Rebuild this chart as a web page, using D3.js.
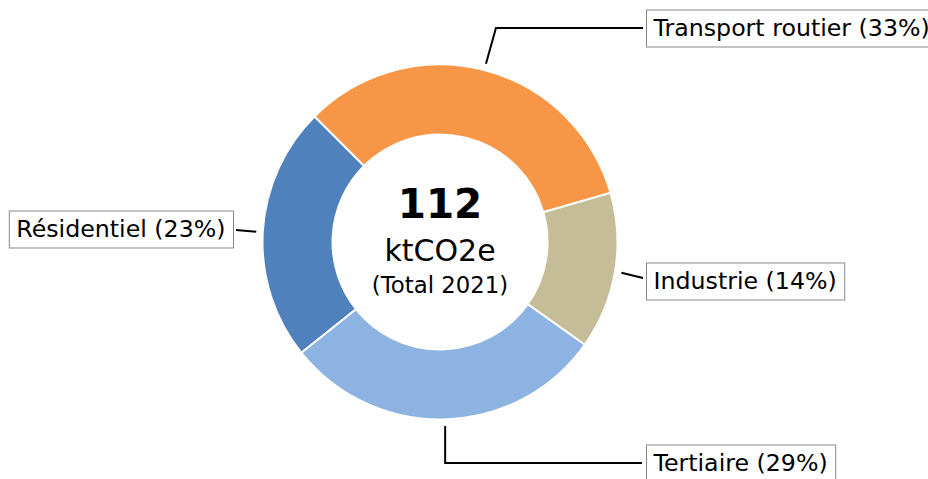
<!DOCTYPE html>
<html>
<head>
  <meta charset="UTF-8">
  <title>Emissions 2021</title>
  <script src="https://cdn.jsdelivr.net/npm/d3@7"></script>
  <style>
    body { margin: 0; background: #fff; }
    text { font-family: "DejaVu Sans", sans-serif; }
  </style>
</head>
<body>
<svg width="928" height="479"></svg>
<script>
// data
var sectors = ["Transport routier", "Industrie", "Tertiaire", "Résidentiel"];
var values = [37, 16, 33, 26];
var colors = ["#f79646", "#c4bd97", "#8db3e2", "#4f81bd"];
var centerLines = ["112", "ktCO2e", "(Total 2021)"];

// label placement (box anchor x, y) per sector, leader bend style
var labelPos = [
  {x: 646, y: 28, side: "right", bend: "h"},
  {x: 646, y: 281, side: "right", bend: "none"},
  {x: 646, y: 463, side: "right", bend: "v"},
  {x: 233, y: 229, side: "left", bend: "none"}
];

var svg = d3.select("svg");
var cx = 440, cy = 242;
var outerR = 177.5, innerR = 107.5;

var total = d3.sum(values);

var pie = d3.pie()
    .sort(null)
    .value(function(d) { return d; })
    .startAngle(-Math.PI / 4)
    .endAngle(-Math.PI / 4 + 2 * Math.PI);

var arc = d3.arc().innerRadius(innerR).outerRadius(outerR);

var g = svg.append("g").attr("transform", "translate(" + cx + "," + cy + ")");

var arcs = pie(values);

g.selectAll("path.slice")
  .data(arcs)
  .enter().append("path")
    .attr("class", "slice")
    .attr("d", arc)
    .attr("fill", function(d, i) { return colors[i]; })
    .attr("stroke", "#fff")
    .attr("stroke-width", 2);

// centre text
g.append("text").attr("x", 0).attr("y", -24)
  .attr("text-anchor", "middle").attr("font-size", 40.5).attr("font-weight", "bold")
  .text(centerLines[0]);
g.append("text").attr("x", 0).attr("y", 19)
  .attr("text-anchor", "middle").attr("font-size", 30)
  .text(centerLines[1]);
g.append("text").attr("x", 0).attr("y", 51)
  .attr("text-anchor", "middle").attr("font-size", 22.8)
  .text(centerLines[2]);

// labels with leader lines
var tipR = 184;
arcs.forEach(function(d, i) {
  var mid = (d.startAngle + d.endAngle) / 2;
  var px = cx + Math.sin(mid) * tipR;
  var py = cy - Math.cos(mid) * tipR;
  var lp = labelPos[i];
  var pct = Math.round(values[i] / total * 100);
  var label = sectors[i] + " (" + pct + "%)";

  var pts;
  if (lp.bend === "h") {
    pts = [[px, py], [px + 10, lp.y], [lp.x - 3, lp.y]];
  } else if (lp.bend === "v") {
    pts = [[px, py], [px, lp.y], [lp.x - 4, lp.y]];
  } else if (lp.side === "right") {
    pts = [[px, py], [lp.x - 3, lp.y - 3]];
  } else {
    pts = [[px, py], [lp.x + 3, lp.y + 1]];
  }
  svg.append("path")
    .attr("d", d3.line()(pts))
    .attr("fill", "none")
    .attr("stroke", "#000")
    .attr("stroke-width", 2);

  var t = svg.append("text")
    .attr("font-size", 23.7)
    .attr("dominant-baseline", "central")
    .text(label);
  var w = t.node().getComputedTextLength();
  var padX = 7.5, boxH = 37;
  var bx = lp.side === "right" ? lp.x : lp.x - w - 2 * padX;
  t.attr("x", bx + padX).attr("y", lp.y);
  svg.insert("rect", function() { return t.node(); })
    .attr("x", bx + 0.5)
    .attr("y", lp.y - boxH / 2 + 0.5)
    .attr("width", w + 2 * padX)
    .attr("height", boxH)
    .attr("fill", "#fff")
    .attr("stroke", "#888")
    .attr("stroke-width", 1);
});
</script>
</body>
</html>
